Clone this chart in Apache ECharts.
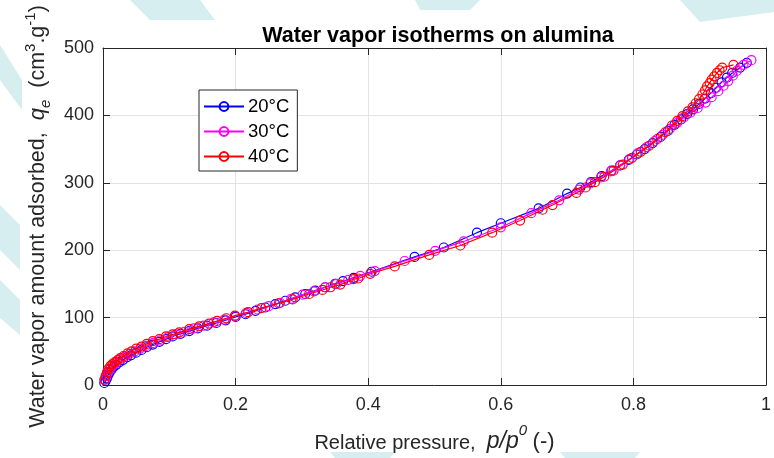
<!DOCTYPE html>
<html>
<head>
<meta charset="utf-8">
<script src="https://cdn.jsdelivr.net/npm/echarts@6/dist/echarts.min.js"></script>
<style>
html,body{margin:0;padding:0;background:#fff;}
#chart{width:774px;height:458px;}
</style>
</head>
<body>
<div id="chart"></div>
<script>
var seriesNames = ['20°C', '30°C', '40°C'];
var xTicks = [0, 0.2, 0.4, 0.6, 0.8, 1];
var yTicks = [0, 100, 200, 300, 400, 500];

var data20 = [[0.002,3],[0.004,6],[0.006,10],[0.008,15],[0.010,19],[0.013,23],[0.016,27],[0.020,30],[0.025,34],[0.030,37],[0.036,41],[0.042,44],[0.050,48],[0.058,52],[0.066,56],[0.075,60],[0.085,64],[0.095,68],[0.105,72],[0.117,76],[0.130,80],[0.143,84],[0.157,88],[0.171,92],[0.185,96],[0.200,101],[0.215,105],[0.230,110],[0.245,115],[0.260,120],[0.275,125],[0.290,130],[0.305,135],[0.320,140],[0.335,145],[0.350,150],[0.362,154],[0.378,159],[0.405,168],[0.470,190],[0.514,204],[0.564,226],[0.600,240],[0.657,262],[0.700,284],[0.720,293],[0.736,301],[0.752,310],[0.767,318],[0.780,326],[0.793,334],[0.805,342],[0.817,350],[0.829,359],[0.841,368],[0.852,377],[0.862,386],[0.872,394],[0.881,402],[0.890,409],[0.899,417],[0.908,425],[0.917,433],[0.925,441],[0.933,449],[0.941,456],[0.949,463],[0.961,471],[0.971,478]];

var data30 = [[0.003,8],[0.005,13],[0.008,19],[0.011,24],[0.015,29],[0.020,33],[0.026,38],[0.033,42],[0.040,46],[0.048,50],[0.056,54],[0.065,58],[0.075,62],[0.086,66],[0.098,71],[0.110,75],[0.123,79],[0.137,84],[0.152,88],[0.167,93],[0.183,97],[0.199,102],[0.216,107],[0.233,112],[0.250,117],[0.267,122],[0.284,128],[0.301,134],[0.318,139],[0.335,145],[0.352,150],[0.370,156],[0.388,162],[0.410,169],[0.455,184],[0.501,199],[0.544,213],[0.600,234],[0.646,255],[0.688,274],[0.718,290],[0.735,299],[0.751,308],[0.766,317],[0.780,326],[0.794,335],[0.807,344],[0.820,353],[0.832,362],[0.844,371],[0.855,380],[0.866,389],[0.876,397],[0.886,404],[0.897,411],[0.909,419],[0.918,427],[0.928,436],[0.936,444],[0.943,451],[0.950,459],[0.956,466],[0.966,475],[0.978,482]];

var data40 = [[0.002,8],[0.004,14],[0.006,19],[0.008,24],[0.011,28],[0.014,31],[0.018,34],[0.022,37],[0.026,40],[0.031,43],[0.037,47],[0.043,50],[0.050,54],[0.058,57],[0.066,61],[0.075,65],[0.085,68],[0.095,72],[0.105,75],[0.115,78],[0.130,83],[0.145,87],[0.160,91],[0.172,95],[0.186,99],[0.199,103],[0.219,108],[0.239,114],[0.265,121],[0.286,127],[0.311,135],[0.331,141],[0.343,145],[0.358,149],[0.378,157],[0.385,158],[0.403,165],[0.440,176],[0.492,193],[0.539,207],[0.587,226],[0.629,244],[0.663,260],[0.678,267],[0.714,285],[0.728,293],[0.742,301],[0.756,309],[0.770,318],[0.784,327],[0.798,337],[0.811,346],[0.824,355],[0.836,365],[0.848,375],[0.858,385],[0.866,392],[0.874,399],[0.882,406],[0.889,412],[0.894,418],[0.899,424],[0.904,431],[0.908,437],[0.911,443],[0.915,448],[0.918,453],[0.922,458],[0.926,463],[0.930,467],[0.934,471],[0.951,475]];

var colors = ['#0000FF', '#FF00FF', '#FF0000'];
var allData = [data20, data30, data40];

var FONT = '"Liberation Sans", Arial, Helvetica, sans-serif';
var axisColor = '#262626';

function mkSeries(i) {
  return {
    name: seriesNames[i],
    type: 'line',
    data: allData[i],
    xAxisIndex: 0, yAxisIndex: 0,
    symbol: 'circle',
    symbolSize: 9,
    showSymbol: true,
    clip: false,
    itemStyle: { color: 'rgba(0,0,0,0)', borderColor: colors[i], borderWidth: 1.2 },
    lineStyle: { color: colors[i], width: 1.2 },
    emphasis: { disabled: true },
    animation: false,
    z: 2 + i
  };
}

var wm = '#d6eef0';
var chart = echarts.init(document.getElementById('chart'), null, { renderer: 'canvas' });
var option = {
  backgroundColor: '#fff',
  animation: false,
  textStyle: { fontFamily: FONT },
  graphic: [
    { type: 'polygon', z: -100, shape: { points: [[130,0],[200,0],[215,20],[150,20]] }, style: { fill: wm } },
    { type: 'polygon', z: -100, shape: { points: [[415,0],[480,0],[470,10],[420,10]] }, style: { fill: wm } },
    { type: 'polygon', z: -100, shape: { points: [[680,0],[774,0],[774,12],[700,22]] }, style: { fill: wm } },
    { type: 'polygon', z: -100, shape: { points: [[0,45],[22,80],[22,110],[0,80]] }, style: { fill: wm } },
    { type: 'polygon', z: -100, shape: { points: [[0,205],[20,225],[20,270],[0,250]] }, style: { fill: wm } },
    { type: 'polygon', z: -100, shape: { points: [[0,280],[20,300],[20,335],[0,318]] }, style: { fill: wm } },
    { type: 'polygon', z: -100, shape: { points: [[330,452],[395,452],[390,458],[335,458]] }, style: { fill: wm } },
    { type: 'polygon', z: -100, shape: { points: [[560,452],[640,452],[635,458],[565,458]] }, style: { fill: wm } }
  ],
  title: {
    text: 'Water vapor isotherms on alumina',
    left: 433, top: 20, textAlign: 'center',
    textStyle: { fontFamily: FONT, fontSize: 21.5, fontWeight: 'bold', color: '#000' }
  },
  legend: {
    data: seriesNames,
    orient: 'vertical',
    left: 199, top: 90,
    padding: [7, 8, 5, 4],
    itemGap: 6,
    itemWidth: 40, itemHeight: 11,
    backgroundColor: '#fff',
    borderColor: axisColor, borderWidth: 1,
    textStyle: { fontFamily: FONT, fontSize: 18.5, color: '#000', lineHeight: 18.5, padding: [0,0,0,-1] }
  },
  grid: { left: 103, right: 1, top: 48, bottom: 70, show: true, backgroundColor: '#fff', borderWidth: 0 },
  xAxis: [{
    type: 'value', min: 0, max: 1, interval: 0.2, position: 'bottom',
    name: '{n|Relative pressure,  }{i|p/p}{sup|0}{n| }{m|(-)}',
    nameLocation: 'middle', nameGap: 38,
    nameTextStyle: {
      rich: {
        n: { fontFamily: FONT, fontSize: 20, color: '#262626', lineHeight: 30, verticalAlign: 'bottom' },
        m: { fontFamily: FONT, fontSize: 22, color: '#262626', lineHeight: 30, verticalAlign: 'bottom' },
        i: { fontFamily: FONT, fontSize: 23, fontStyle: 'italic', color: '#262626', lineHeight: 30, verticalAlign: 'bottom' },
        sup: { fontFamily: FONT, fontSize: 15, fontStyle: 'italic', color: '#262626', lineHeight: 14, verticalAlign: 'top' }
      }
    },
    axisLine: { show: true, onZero: false, lineStyle: { color: axisColor, width: 1 } },
    axisTick: { show: true, inside: true, length: 7, lineStyle: { color: axisColor } },
    axisLabel: { fontFamily: FONT, fontSize: 18, color: axisColor, margin: 11,
      formatter: function (v) { return String(Math.round(v * 10) / 10); } },
    splitLine: { show: true, lineStyle: { color: '#e3e3e3', width: 1 } }
  }, {
    type: 'value', min: 0, max: 1, interval: 0.2, position: 'top',
    axisLine: { show: true, onZero: false, lineStyle: { color: axisColor, width: 1 } },
    axisTick: { show: true, inside: true, length: 7, lineStyle: { color: axisColor } },
    axisLabel: { show: false }, splitLine: { show: false }
  }],
  yAxis: [{
    type: 'value', min: 0, max: 500, interval: 100, position: 'left',
    name: '{n|Water vapor amount adsorbed,  }{i|q}{sub|e}{n|  (cm}{sup|3}{n|.g}{sup|-1}{n|)}',
    nameLocation: 'middle', nameRotate: 90, nameGap: 50,
    nameTextStyle: {
      rich: {
        n: { fontFamily: FONT, fontSize: 21.5, color: '#262626', lineHeight: 30 },
        i: { fontFamily: FONT, fontSize: 22, fontStyle: 'italic', color: '#262626', lineHeight: 30 },
        sub: { fontFamily: FONT, fontSize: 15, fontStyle: 'italic', color: '#262626', lineHeight: 14, verticalAlign: 'bottom' },
        sup: { fontFamily: FONT, fontSize: 15, color: '#262626', lineHeight: 14, verticalAlign: 'top' }
      }
    },
    axisLine: { show: true, onZero: false, lineStyle: { color: axisColor, width: 1 } },
    axisTick: { show: true, inside: true, length: 7, lineStyle: { color: axisColor } },
    axisLabel: { fontFamily: FONT, fontSize: 18, color: axisColor, margin: 9 },
    splitLine: { show: true, lineStyle: { color: '#e3e3e3', width: 1 } }
  }, {
    type: 'value', min: 0, max: 500, interval: 100, position: 'right',
    axisLine: { show: true, onZero: false, lineStyle: { color: axisColor, width: 1 } },
    axisTick: { show: true, inside: true, length: 7, lineStyle: { color: axisColor } },
    axisLabel: { show: false }, splitLine: { show: false }
  }],
  series: [mkSeries(0), mkSeries(1), mkSeries(2)]
};
chart.setOption(option);
</script>
</body>
</html>
